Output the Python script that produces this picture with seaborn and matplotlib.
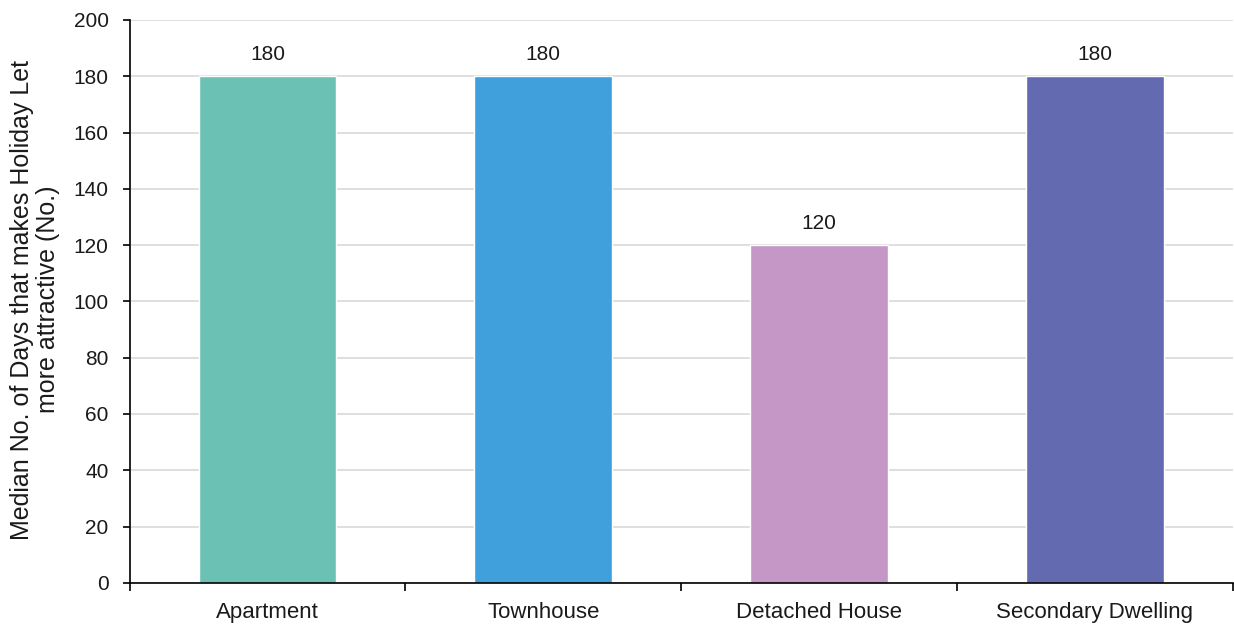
import pandas as pd
import numpy as np
import seaborn as sns
import matplotlib.pyplot as plt

categories = ["Apartment", "Townhouse", "Detached House", "Secondary Dwelling"]
median_days = [180, 180, 120, 180]
bar_colors = ["#6AC1B4", "#40A0DC", "#C497C6", "#636AAF"]
y_ticks = [0, 20, 40, 60, 80, 100, 120, 140, 160, 180, 200]

df = pd.DataFrame({"Dwelling": categories, "Days": median_days})

sns.set_style("white")
plt.rcParams["font.family"] = ["Liberation Sans", "DejaVu Sans"]

fig = plt.figure(figsize=(12.34, 6.24), dpi=100)
ax = fig.add_axes([0.105, 0.066, 0.894, 0.902])

sns.barplot(data=df, x="Dwelling", y="Days", hue="Dwelling",
            palette=bar_colors, width=0.5, legend=False, ax=ax, saturation=1)

# value labels above the bars
for c in ax.containers:
    ax.bar_label(c, fmt="%d", padding=9, fontsize=15, color="#1a1a1a")

ax.set_ylim(0, 200)
ax.set_yticks(y_ticks)
ax.set_xlim(-0.5, len(categories) - 0.5)
ax.set_xticks(np.arange(-0.5, len(categories)), minor=True)
ax.tick_params(axis="x", which="major", bottom=True, length=0, labelsize=16, pad=14,
               labelcolor="#1a1a1a")
ax.tick_params(axis="x", which="minor", bottom=True, length=6, width=1.2, color="black",
               direction="out")
ax.tick_params(axis="y", left=True, length=5, width=1.2, color="black", labelsize=15,
               direction="out", pad=10, labelcolor="#1a1a1a")

ax.yaxis.grid(True, color="#D9D9D9", linewidth=1.2)
ax.set_axisbelow(True)
for s in ["top", "right"]:
    ax.spines[s].set_visible(False)
for s in ["left", "bottom"]:
    ax.spines[s].set_color("black")
    ax.spines[s].set_linewidth(1.2)

ax.set_xlabel("")
ax.set_ylabel("Median No. of Days that makes Holiday Let\nmore attractive (No.)",
              fontsize=18, color="#1a1a1a", linespacing=1.1)
ax.yaxis.set_label_coords(-0.063, 0.503)

fig.savefig("out.png", dpi=100)
